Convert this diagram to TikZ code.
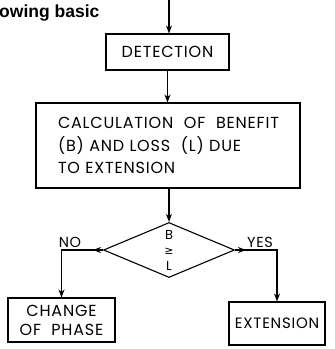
\documentclass[tikz,border=0pt]{standalone}
\usepackage{fontspec}
\setmainfont{Liberation Sans}
\newfontfamily\flowfont[LetterSpace=5]{Poppins}
\newfontfamily\relfont{DejaVu Sans}
\usetikzlibrary{shapes.geometric, arrows.meta, decorations.markings}

\tikzset{
	box/.style={draw, line width=1.1pt, inner sep=0pt, align=center, font=\flowfont\fontsize{16}{19}\selectfont},
	flow/.style={draw, line width=1.1pt, -{Stealth[length=8pt, width=6pt]}},
	midtip/.style={postaction={decorate}, decoration={markings, mark=at position #1 with {\arrow{Stealth[length=8pt, width=6pt]}}}},
}

\begin{document}
\begin{tikzpicture}[x=1pt, y=-1pt]
		% Frame
		\useasboundingbox (0,0) rectangle (335,349);
		
		% Caption fragment
		\node[anchor=base west, inner sep=0pt, font=\bfseries\fontsize{17.5}{20}\selectfont] (caption) at (-1,17) {owing basic};
		
		% Boxes
		\node[box, minimum width=123pt, minimum height=36pt] (detect) at (167.5,52) {DETECTION};
		\node[box, minimum width=264pt, minimum height=85pt, text width=220pt, align=left, font=\flowfont\fontsize{16}{22.5}\selectfont] (calc) at (168,145.5) {CALCULATION\ \ OF\ \ BENEFIT\\(B)\ AND\ LOSS\ \ (L)\ DUE\\TO\ EXTENSION};
		
		% Decision
		\node[draw, diamond, line width=1.1pt, minimum width=131pt, minimum height=55pt, inner sep=0pt, aspect=2.4, align=center, font=\flowfont\fontsize{13}{15.5}\selectfont] (test) at (169,250) {B\\{\relfont\fontsize{11}{12}\selectfont ≥}\\L};
		
		% Outcomes
		\node[box, minimum width=107pt, minimum height=44pt] (phase) at (61.5,320) {CHANGE\\OF\ \ PHASE};
		\node[box, minimum width=96pt, minimum height=43pt, font=\flowfont\fontsize{15}{19}\selectfont] (ext) at (277,323.5) {EXTENSION};
		
		% Branch labels
		\node[font=\flowfont\fontsize{14.5}{15}\selectfont] (no) at (70,242) {NO};
		\node[font=\flowfont\fontsize{14.5}{15}\selectfont] (yes) at (260,242) {YES};
		
		% Connectors
		\coordinate (entry) at (169,0);
		\draw[flow] (entry) -- (entry |- detect.north);
		\draw[flow] (detect.south) -- (detect.south |- calc.north);
		\draw[flow] (test.north |- calc.south) -- (test.north);
		\draw[flow, midtip=10pt] (test.west) -| (phase.north);
		\draw[flow, midtip=11pt] (test.east) -| (ext.north);
		
	\end{tikzpicture}
\end{document}
